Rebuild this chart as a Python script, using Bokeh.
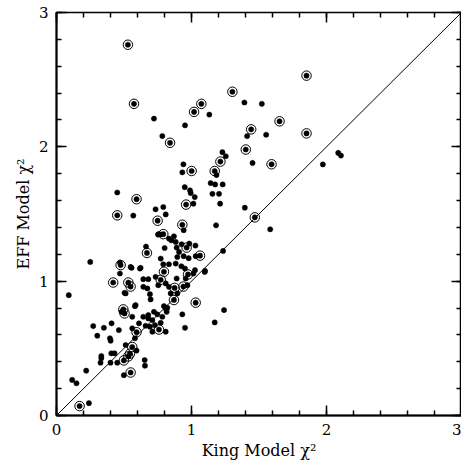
from bokeh.plotting import figure
from bokeh.models import LinearAxis, SingleIntervalTicker, Range1d, Title, Slope
from bokeh.embed import file_html
from bokeh.resources import INLINE

# plain points (King chi2, EFF chi2)
king_dot = [1.392, 1.521, 1.132, 0.722, 0.952, 0.784, 1.412, 1.553,
            1.229, 1.254, 1.452, 0.940, 0.932, 1.185, 1.142, 1.175, 1.231, 0.950, 0.989, 0.994,
            0.450, 1.155, 1.204, 1.024, 1.212, 1.014, 1.395, 0.734, 0.791, 0.809, 0.569, 0.942,
            1.182, 0.752, 0.772, 0.833, 0.870, 0.851, 0.883, 0.927, 0.984, 1.029, 0.663, 0.801,
            0.890, 0.772, 0.250, 0.470, 0.549, 0.623, 0.791, 0.833, 0.883, 0.925, 0.952, 1.026,
            0.470, 1.100, 1.234, 1.973, 2.087, 2.107, 1.583, 0.942, 0.979, 1.031, 0.908, 0.895,
            0.091, 0.504, 1.241, 1.172, 0.932, 0.952, 0.482, 0.581, 0.561, 0.611, 0.643, 0.680,
            0.680, 0.722, 0.747, 0.784, 0.816, 0.796, 0.821, 0.660, 0.692, 0.729, 0.772, 0.809,
            0.710, 0.561, 0.462, 0.408, 0.351, 0.272, 0.302, 0.396, 0.401, 0.581, 0.593, 0.512,
            0.406, 0.430, 0.332, 0.332, 0.326, 0.400, 0.450, 0.653, 0.655, 0.499, 0.220, 0.116,
            0.148, 0.240, 0.643, 0.680, 0.643, 0.673, 0.692, 0.697, 0.734, 0.754, 0.809, 0.833,
            0.846, 0.890, 0.957, 0.970, 1.014, 1.098, 0.895, 0.809, 0.710, 0.757, 0.556, 0.618,
            0.512, 0.586]
eff_dot = [2.330, 2.320, 2.240, 2.210, 2.160, 2.080, 2.080, 2.090,
           1.960, 1.930, 1.880, 1.870, 1.810, 1.790, 1.730, 1.720, 1.720, 1.700, 1.676, 1.656,
           1.660, 1.650, 1.650, 1.626, 1.577, 1.577, 1.547, 1.535, 1.552, 1.497, 1.488, 1.379,
           1.416, 1.347, 1.347, 1.317, 1.334, 1.304, 1.292, 1.275, 1.280, 1.265, 1.258, 1.247,
           1.250, 1.168, 1.143, 1.139, 1.106, 1.099, 1.126, 1.126, 1.131, 1.111, 1.094, 1.082,
           1.057, 1.076, 1.225, 1.869, 1.955, 1.935, 1.386, 1.186, 1.171, 1.186, 1.218, 1.180,
           0.896, 0.913, 0.785, 0.693, 0.753, 0.653, 0.772, 0.814, 0.735, 0.686, 0.735, 0.748,
           0.723, 0.772, 0.753, 0.735, 0.772, 0.814, 0.802, 0.668, 0.661, 0.673, 0.690, 0.624,
           0.624, 0.649, 0.636, 0.686, 0.653, 0.666, 0.594, 0.575, 0.557, 0.575, 0.483, 0.525,
           0.463, 0.463, 0.443, 0.426, 0.393, 0.393, 0.393, 0.413, 0.371, 0.300, 0.334, 0.265,
           0.240, 0.092, 1.015, 1.015, 0.958, 0.946, 0.903, 0.864, 1.032, 0.970, 0.983, 0.958,
           0.909, 1.020, 1.020, 0.970, 1.057, 1.069, 0.909, 0.797, 0.710, 1.350, 1.099, 1.094,
           0.909, 0.822]

# circled points
king_ring = [0.529, 1.852, 1.303, 0.574, 1.073, 1.019, 1.652, 1.442, 1.852, 0.841,
             1.402, 1.214, 1.001, 1.172, 1.593, 0.593, 0.960, 0.450, 1.469, 0.749,
             0.932, 0.791, 0.964, 0.670, 1.063, 0.475, 0.796, 0.974, 0.420, 0.532,
             0.549, 0.772, 0.875, 0.940, 0.870, 1.031, 0.495, 0.504, 0.759, 0.593,
             0.561, 0.544, 0.532, 0.499, 0.549, 0.171]
eff_ring = [2.760, 2.530, 2.410, 2.320, 2.320, 2.260, 2.190, 2.130, 2.100, 2.030,
            1.980, 1.890, 1.820, 1.820, 1.870, 1.610, 1.570, 1.490, 1.475, 1.450,
            1.420, 1.350, 1.250, 1.210, 1.190, 1.120, 1.070, 1.050, 0.990, 0.990,
            0.960, 1.010, 0.950, 0.960, 0.860, 0.840, 0.790, 0.760, 0.640, 0.620,
            0.510, 0.460, 0.440, 0.410, 0.320, 0.070]

FONT = "DejaVu Serif"

p = figure(width=461, height=462, x_range=Range1d(0, 3), y_range=Range1d(0, 3),
           output_backend="svg", toolbar_location=None,
           x_axis_location=None, y_axis_location=None,
           min_border_left=56, min_border_right=0, min_border_top=12, min_border_bottom=46)
p.grid.visible = False
p.outline_line_color = "black"
p.outline_line_width = 1.5
p.background_fill_color = "white"
p.border_fill_color = "white"


def make_axis(show_labels, label=None):
    ax = LinearAxis(ticker=SingleIntervalTicker(interval=1, num_minor_ticks=5))
    ax.major_tick_in = 10
    ax.major_tick_out = 0
    ax.minor_tick_in = 5
    ax.minor_tick_out = 0
    ax.major_tick_line_color = "black"
    ax.minor_tick_line_color = "black"
    ax.major_tick_line_width = 1.5
    ax.minor_tick_line_width = 1.5
    if show_labels:
        ax.axis_line_width = 2
        ax.axis_line_color = "black"
        ax.major_label_text_font = FONT
        ax.major_label_text_font_size = "15px"
        ax.major_label_text_color = "black"
        ax.major_label_standoff = 8
        if label:
            ax.axis_label = label
            ax.axis_label_text_font = FONT
            ax.axis_label_text_font_size = "16px"
            ax.axis_label_text_font_style = "normal"
            ax.axis_label_text_color = "black"
            ax.axis_label_standoff = 3
    else:
        ax.axis_line_color = None
        ax.major_label_text_color = None
        ax.major_label_text_font_size = "1px"
        ax.major_label_overrides = {0: "", 1: "", 2: "", 3: ""}
        ax.major_label_standoff = 0
    return ax


p.add_layout(make_axis(True, "King Model χ²"), "below")
p.add_layout(make_axis(True), "left")
p.add_layout(make_axis(False), "above")
p.add_layout(make_axis(False), "right")

p.add_layout(Title(text="EFF Model χ²", align="center", offset=24, standoff=6,
                   text_font=FONT, text_font_size="16px", text_font_style="normal",
                   text_color="black"), "left")

p.add_layout(Slope(gradient=1, y_intercept=0, line_color="black", line_width=1))

p.scatter(king_ring, eff_ring, size=9.5, fill_color=None, line_color="black", line_width=1)
p.scatter(king_dot + king_ring, eff_dot + eff_ring, size=5.2, fill_color="black",
          line_color="black", line_width=0.5)

open("out.html", "w").write(file_html(p, INLINE))
